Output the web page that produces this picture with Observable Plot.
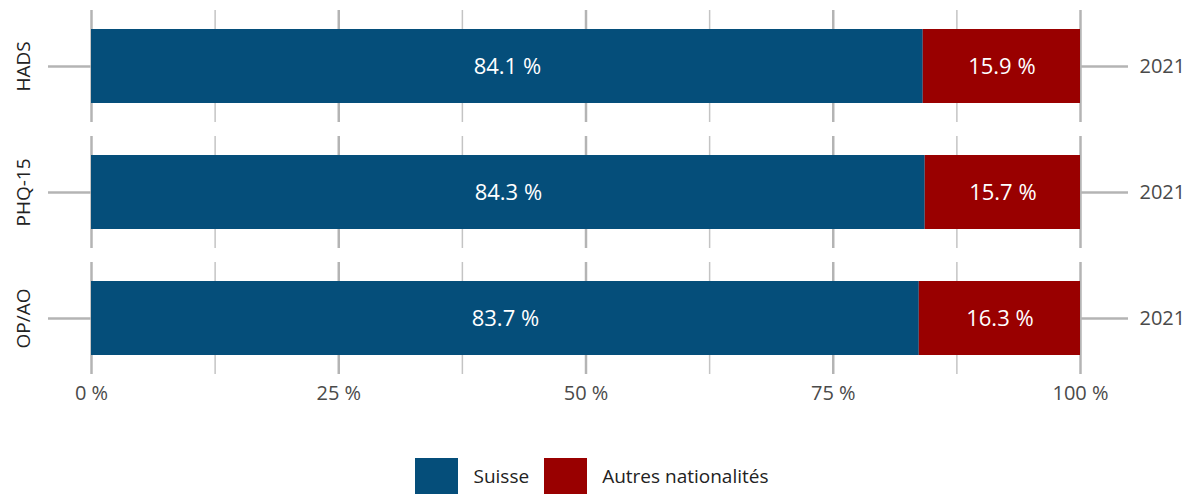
<!DOCTYPE html>
<html>
<head>
<meta charset="utf-8">
<script src="https://cdn.jsdelivr.net/npm/d3@7"></script>
<script src="https://cdn.jsdelivr.net/npm/@observablehq/plot@0.6"></script>
<style>
  html, body { margin: 0; padding: 0; background: #fff; }
  body { width: 1192px; font-family: "Open Sans", "Noto Sans", sans-serif; }
  #legend { display: flex; justify-content: center; align-items: center; margin-top: 38px; padding-right: 8px; }
  .item { display: flex; align-items: center; margin: 0 7.5px; }
  .sw { width: 43px; height: 36px; margin-right: 15px; }
  .lab { font-size: 19px; color: #222; }
</style>
</head>
<body>
<div id="chart"></div>
<div id="legend"></div>
<script>
const measures = ["HADS", "PHQ-15", "OP/AO"];
const years = ["2021", "2021", "2021"];
const suisse = [84.1, 84.3, 83.7];
const autres = [15.9, 15.7, 16.3];
const seriesNames = ["Suisse", "Autres nationalités"];
const seriesColors = ["#054e7a", "#990000"];
const majorTicks = [0, 25, 50, 75, 100];
const minorTicks = [12.5, 37.5, 62.5, 87.5];

const rows = [];
measures.forEach((m, i) => {
  rows.push({measure: m, year: years[i], series: seriesNames[0], value: suisse[i]});
  rows.push({measure: m, year: years[i], series: seriesNames[1], value: autres[i]});
});

const chart = Plot.plot({
  width: 1192,
  height: 420,
  marginTop: 10,
  marginBottom: 45,
  marginLeft: 91,
  marginRight: 112,
  style: {fontFamily: "'Open Sans', 'Noto Sans', sans-serif", fontSize: "20px", color: "#4a4a4a"},
  x: {domain: [0, 100]},
  y: {domain: ["2021"], padding: 0.2},
  fy: {domain: measures, paddingInner: 0.11, paddingOuter: 0},
  color: {domain: seriesNames, range: seriesColors},
  marks: [
    Plot.ruleX(minorTicks, {stroke: "#c4c4c4", strokeWidth: 1.5}),
    Plot.ruleX(majorTicks, {stroke: "#b4b4b4", strokeWidth: 2.5}),
    Plot.barX(rows, Plot.stackX({x: "value", y: "year", fy: "measure", fill: "series", order: null})),
    Plot.text(rows, Plot.stackX({x: "value", y: "year", fy: "measure", text: d => d.value.toFixed(1) + " %", fill: "white", fontSize: 22, order: null})),
    Plot.axisX({anchor: "bottom", ticks: majorTicks, tickSize: 0, tickPadding: 11, tickFormat: d => d + " %", label: null, fontSize: 20, fill: "#4a4a4a"}),
    Plot.axisY({anchor: "left", tickSize: 43, tickFormat: () => "", label: null, stroke: "#b4b4b4", strokeWidth: 2.5, strokeOpacity: 1}),
    Plot.axisY({anchor: "right", tickSize: 47, tickPadding: 12, label: null, stroke: "#b4b4b4", strokeWidth: 2.5, strokeOpacity: 1, fontSize: 20, fill: "#4a4a4a"}),
    Plot.axisFy({anchor: "left", tickRotate: -90, tickSize: 0, tickPadding: 62, label: null, fontSize: 19, fill: "#222"})
  ]
});
document.getElementById("chart").appendChild(chart);

const legend = document.getElementById("legend");
seriesNames.forEach((s, i) => {
  const item = document.createElement("div");
  item.className = "item";
  const sw = document.createElement("div");
  sw.className = "sw";
  sw.style.background = seriesColors[i];
  const lab = document.createElement("span");
  lab.className = "lab";
  lab.textContent = s;
  item.appendChild(sw);
  item.appendChild(lab);
  legend.appendChild(item);
});
</script>
</body>
</html>
